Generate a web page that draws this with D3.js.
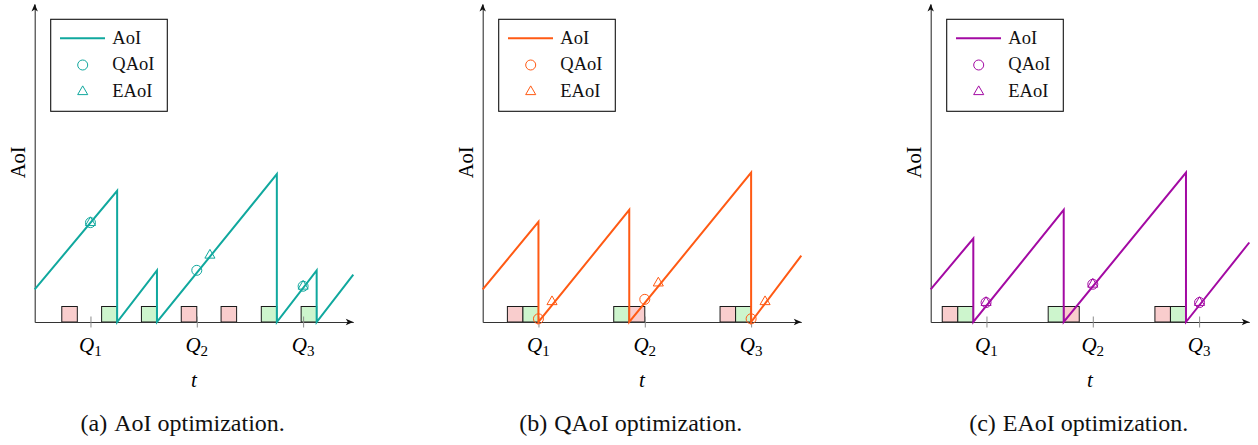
<!DOCTYPE html>
<html><head><meta charset="utf-8">
<script src="https://cdn.jsdelivr.net/npm/d3@7"></script>
<style>body{margin:0;background:#fff} svg{display:block}</style>
</head><body>
<svg id="chart" width="1258" height="445"></svg>
<script>
// ---------- data ----------
const captionLabels = ['(a)', '(b)', '(c)'];
const captionTexts = ['AoI optimization.', 'QAoI optimization.', 'EAoI optimization.'];
const seriesColors = ['#10a89e', '#ff5a14', '#a30aa3'];
const legendLabels = ['AoI', 'QAoI', 'EAoI'];
const queryTimes = [1.40, 4.07, 6.74];
const queryLabels = ['1', '2', '3'];
const xAxisLabel = 't';
const yAxisLabel = 'AoI';

// (a) AoI optimization
const aoiTimesA  = [0, 2.07, 2.07, 3.07, 3.07, 6.08, 6.08, 7.08, 7.08, 8.0];
const aoiValuesA = [0.82, 3.30, 0, 1.30, 0, 3.72, 0, 1.30, 0, 1.19];
const boxStartsA = [0.68, 1.68, 2.68, 3.68, 4.68, 5.69, 6.69];
const boxKindsA  = ['fail', 'ok', 'ok', 'fail', 'fail', 'ok', 'ok'];
const qaoiTimesA = [1.40, 4.07, 6.74];
const qaoiValuesA = [2.50, 1.30, 0.90];
const eaoiTimesA = [1.40, 4.40, 6.74];
const eaoiValuesA = [2.50, 1.68, 0.90];

// (b) QAoI optimization
const aoiTimesB  = [0, 1.40, 1.40, 3.68, 3.68, 6.74, 6.74, 8.0];
const aoiValuesB = [0.82, 2.52, 0, 2.82, 0, 3.76, 0, 1.67];
const boxStartsB = [0.62, 1.01, 3.29, 3.68, 5.96, 6.35];
const boxKindsB  = ['fail', 'ok', 'ok', 'fail', 'fail', 'ok'];
const qaoiTimesB = [1.40, 4.07, 6.74];
const qaoiValuesB = [0.08, 0.57, 0.08];
const eaoiTimesB = [1.74, 4.41, 7.09];
const eaoiValuesB = [0.51, 0.98, 0.51];

// (c) EAoI optimization
const aoiTimesC  = [0, 1.07, 1.07, 3.34, 3.34, 6.41, 6.41, 8.0];
const aoiValuesC = [0.82, 2.10, 0, 2.82, 0, 3.76, 0, 2.00];
const boxStartsC = [0.29, 0.68, 2.95, 3.34, 5.63, 6.02];
const boxKindsC  = ['fail', 'ok', 'ok', 'fail', 'fail', 'ok'];
const qaoiTimesC = [1.39, 4.07, 6.75];
const qaoiValuesC = [0.49, 0.95, 0.49];
const eaoiTimesC = [1.39, 4.07, 6.75];
const eaoiValuesC = [0.49, 0.95, 0.49];

// ---------- build ----------
const panels = [
  {aoiT: aoiTimesA, aoiV: aoiValuesA, boxS: boxStartsA, boxK: boxKindsA, qT: qaoiTimesA, qV: qaoiValuesA, eT: eaoiTimesA, eV: eaoiValuesA},
  {aoiT: aoiTimesB, aoiV: aoiValuesB, boxS: boxStartsB, boxK: boxKindsB, qT: qaoiTimesB, qV: qaoiValuesB, eT: eaoiTimesB, eV: eaoiValuesB},
  {aoiT: aoiTimesC, aoiV: aoiValuesC, boxS: boxStartsC, boxK: boxKindsC, qT: qaoiTimesC, qV: qaoiValuesC, eT: eaoiTimesC, eV: eaoiValuesC}
];

const svg = d3.select('#chart');
const FONT = "'Liberation Serif', 'Times New Roman', serif";
const originsX = [34.7, 482.7, 930.7];
const plotW = 318.6, baseY = 322, topY = 4;
const domainMax = 8;
const boxW = 0.39, boxH = 0.39;
const boxFill = {fail: '#f9cdcd', ok: '#cdf5cd'};
const arrowPath = 'M0,0 L-7.5,-3.2 L-5.6,0 L-7.5,3.2 Z';
const triSym = d3.symbol().type(d3.symbolTriangle).size(44);

panels.forEach((p, i) => {
  const ox = originsX[i];
  const color = seriesColors[i];
  const x = d3.scaleLinear().domain([0, domainMax]).range([ox, ox + plotW]);
  const y = d3.scaleLinear().domain([0, domainMax]).range([baseY, topY]);
  const g = svg.append('g');

  // slot boxes
  g.selectAll('rect.box').data(d3.zip(p.boxS, p.boxK)).join('rect')
    .attr('class', 'box')
    .attr('x', d => x(d[0]))
    .attr('y', y(boxH))
    .attr('width', d => x(d[0] + boxW) - x(d[0]))
    .attr('height', y(0) - y(boxH))
    .attr('fill', d => boxFill[d[1]])
    .attr('stroke', '#1a1a1a').attr('stroke-width', 1);

  // axes
  const gx = g.append('g').attr('transform', `translate(0,${baseY})`)
    .call(d3.axisBottom(x).tickValues(queryTimes).tickFormat('').tickSizeOuter(0).tickSizeInner(5.5));
  gx.select('.domain').attr('stroke', '#333').attr('stroke-width', 1.1);
  gx.selectAll('.tick line').attr('y1', -5.5).attr('y2', 5.5).attr('stroke', '#8c8c8c').attr('stroke-width', 1);

  const gy = g.append('g').attr('transform', `translate(${ox},0)`)
    .call(d3.axisLeft(y).tickValues([]).tickSizeOuter(0));
  gy.select('.domain').attr('stroke', '#333').attr('stroke-width', 1.1);

  g.append('path').attr('d', arrowPath).attr('fill', '#111')
    .attr('transform', `translate(${x(domainMax)},${baseY})`);
  g.append('path').attr('d', arrowPath).attr('fill', '#111')
    .attr('transform', `translate(${ox},${y(domainMax)}) rotate(-90)`);

  // AoI line
  g.append('path').datum(d3.zip(p.aoiT, p.aoiV))
    .attr('d', d3.line().x(d => x(d[0])).y(d => y(d[1])))
    .attr('fill', 'none').attr('stroke', color).attr('stroke-width', 2)
    .attr('stroke-linejoin', 'miter');

  // QAoI circles
  g.selectAll('circle.q').data(d3.zip(p.qT, p.qV)).join('circle')
    .attr('class', 'q')
    .attr('cx', d => x(d[0])).attr('cy', d => y(d[1])).attr('r', 5)
    .attr('fill', 'none').attr('stroke', color).attr('stroke-width', 1);

  // EAoI triangles
  g.selectAll('path.e').data(d3.zip(p.eT, p.eV)).join('path')
    .attr('class', 'e')
    .attr('d', triSym)
    .attr('transform', d => `translate(${x(d[0])},${y(d[1])})`)
    .attr('fill', 'none').attr('stroke', color).attr('stroke-width', 1);

  // Q labels
  queryTimes.forEach((q, k) => {
    const t = g.append('text').attr('x', x(q)).attr('y', 352)
      .attr('text-anchor', 'middle').attr('font-family', FONT);
    t.append('tspan').attr('font-style', 'italic').attr('font-size', 21).text('Q');
    t.append('tspan').attr('font-size', 15).attr('dy', 4).text(queryLabels[k]);
  });

  // axis labels
  g.append('text').attr('x', ox + plotW / 2).attr('y', 386.5)
    .attr('text-anchor', 'middle').attr('font-family', FONT)
    .attr('font-style', 'italic').attr('font-size', 21).text(xAxisLabel);
  g.append('text')
    .attr('transform', `translate(${ox - 16.4},162.3) rotate(-90)`)
    .attr('text-anchor', 'middle').attr('dominant-baseline', 'central')
    .attr('font-family', FONT).attr('font-size', 20.5).text(yAxisLabel);

  // legend
  const lg = g.append('g').attr('transform', `translate(${ox + 16},19.3)`);
  lg.append('rect').attr('width', 116.6).attr('height', 92)
    .attr('fill', '#fff').attr('stroke', '#111').attr('stroke-width', 1.1);
  const rowY = [19, 45.7, 72.4];
  lg.append('line').attr('x1', 9.3).attr('x2', 54.3).attr('y1', rowY[0]).attr('y2', rowY[0])
    .attr('stroke', color).attr('stroke-width', 2);
  lg.append('circle').attr('cx', 32).attr('cy', rowY[1]).attr('r', 5)
    .attr('fill', 'none').attr('stroke', color).attr('stroke-width', 1);
  lg.append('path').attr('d', triSym).attr('transform', `translate(32,${rowY[2]})`)
    .attr('fill', 'none').attr('stroke', color).attr('stroke-width', 1);
  legendLabels.forEach((lab, k) => {
    lg.append('text').attr('x', 61.6).attr('y', rowY[k] + 5.5)
      .attr('font-family', FONT).attr('font-size', 18.5).attr('fill', '#111').text(lab);
  });

  // caption
  const cap = g.append('text').attr('x', ox + 148).attr('y', 431)
    .attr('text-anchor', 'middle').attr('font-family', FONT).attr('font-size', 24).attr('fill', '#111');
  cap.append('tspan').text(captionLabels[i]);
  cap.append('tspan').attr('dx', 7).text(captionTexts[i]);
});
</script>
</body></html>
